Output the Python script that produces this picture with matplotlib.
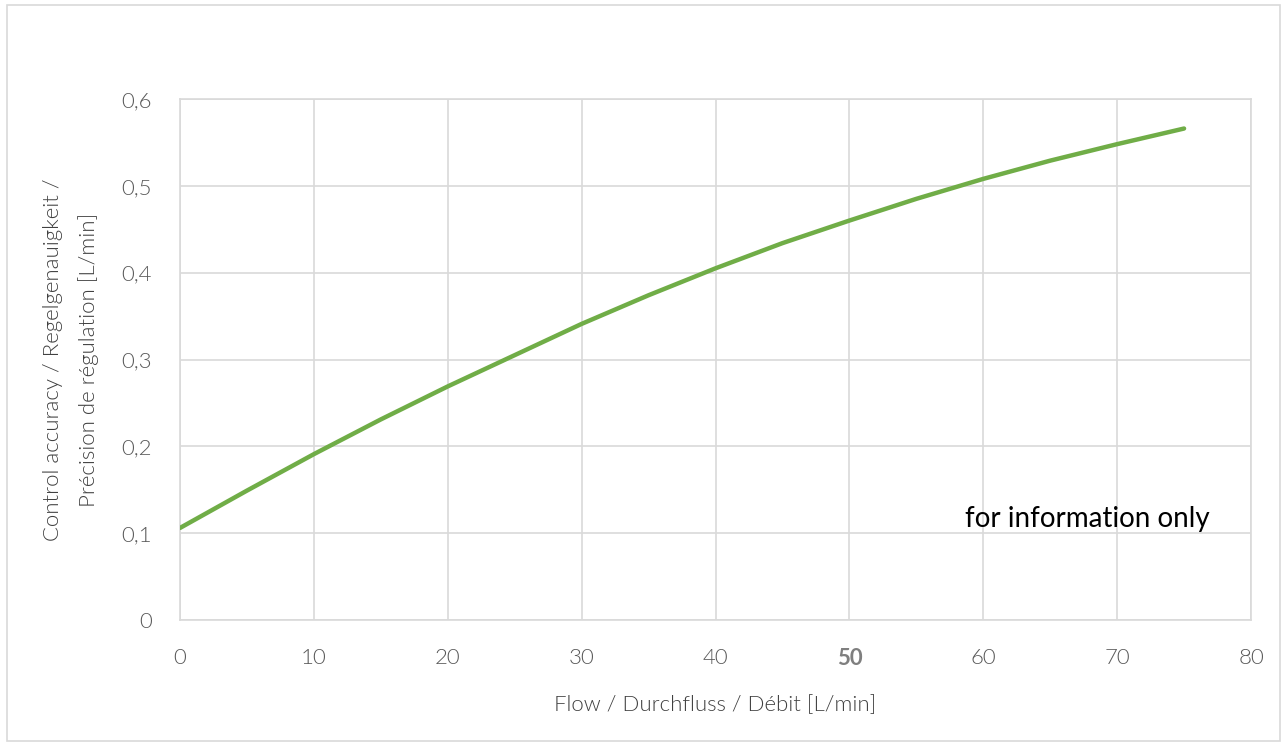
import numpy as np
import matplotlib.pyplot as plt
from matplotlib.patches import Rectangle

# flow [L/min] and control accuracy [L/min]
flow = [0, 5, 10, 15, 20, 25, 30, 35, 40, 45, 50, 55, 60, 65, 70, 75]
accuracy = [0.106, 0.149, 0.191, 0.231, 0.269, 0.305, 0.341, 0.374,
            0.405, 0.434, 0.460, 0.485, 0.508, 0.529, 0.548, 0.566]

x_ticks = [0, 10, 20, 30, 40, 50, 60, 70, 80]
y_ticks = [0, 0.1, 0.2, 0.3, 0.4, 0.5, 0.6]
y_tick_labels = ["0", "0,1", "0,2", "0,3", "0,4", "0,5", "0,6"]

x_label = "Flow / Durchfluss / Débit [L/min]"
y_label = "Control accuracy / Regelgenauigkeit /\nPrécision de régulation [L/min]"
note = "for information only"

grid_col = "#d9d9d9"
tick_col = "#595959"
label_col = "#404040"

plt.rcParams["font.family"] = ["Lato", "DejaVu Sans"]

fig = plt.figure(figsize=(12.88, 7.45), dpi=100)
ax = fig.add_axes([180 / 1288, 1 - 620 / 745, (1251 - 180) / 1288, (620 - 99) / 745])

# outer chart frame
fig.patches.append(Rectangle((7 / 1288, 4 / 745), 1273 / 1288, 736 / 745,
                             transform=fig.transFigure, fill=False,
                             edgecolor=grid_col, linewidth=1.2))

ax.plot(flow, accuracy, color="#70ad47", linewidth=3.2,
        solid_capstyle="round", solid_joinstyle="round", zorder=3)

ax.set_xlim(0, 80)
ax.set_ylim(0, 0.6)
ax.set_xticks(x_ticks)
ax.set_yticks(y_ticks)
ax.set_yticklabels(y_tick_labels)
ax.grid(True, color=grid_col, linewidth=1.2)
for s in ax.spines.values():
    s.set_color(grid_col)
    s.set_linewidth(1.2)
ax.tick_params(length=0, labelsize=16, labelcolor=tick_col)
ax.tick_params(axis="x", pad=20)
ax.tick_params(axis="y", pad=20)
for lbl in ax.get_xticklabels() + ax.get_yticklabels():
    lbl.set_fontweight(300)
for lbl in ax.get_xticklabels():
    if lbl.get_text() == "50":
        lbl.set_fontweight("bold")
        lbl.set_color("#7f7f7f")

ax.set_xlabel(x_label, fontsize=16, color=label_col, fontweight=300, labelpad=19)
ax.set_ylabel(y_label, fontsize=16, color=label_col, fontweight=300,
              labelpad=16, linespacing=1.9)

ax.text(76.9, 0.1066, note, fontsize=20, color="black", ha="right", va="baseline")

fig.savefig("out.png", dpi=100)
